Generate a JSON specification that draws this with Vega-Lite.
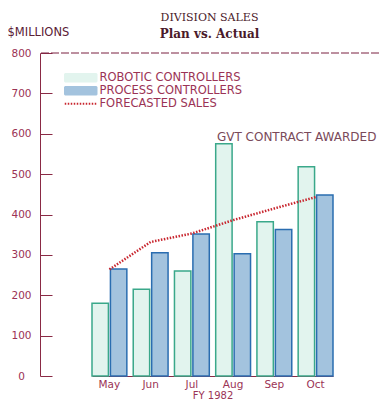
{
  "$schema": "https://vega.github.io/schema/vega-lite/v6.json",
  "autosize": "none",
  "width": 339,
  "height": 323,
  "padding": {"left": 40, "top": 53, "right": 0, "bottom": 32},
  "background": "white",
  "title": {
    "text": "DIVISION SALES",
    "subtitle": "Plan vs. Actual",
    "font": "DejaVu Serif",
    "fontSize": 11,
    "fontWeight": "normal",
    "color": "#4a1a2a",
    "subtitleFont": "DejaVu Serif",
    "subtitleFontSize": 12,
    "subtitleFontWeight": "bold",
    "subtitleColor": "#4a1a2a",
    "subtitlePadding": 6,
    "anchor": "middle",
    "frame": "group",
    "offset": -14
  },
  "config": {
    "view": {"stroke": null},
    "axis": {
      "labelFont": "DejaVu Sans",
      "labelFontSize": 10.5,
      "labelColor": "#9b3355",
      "domainColor": "#8a2a45",
      "tickColor": "#8a2a45",
      "grid": false
    }
  },
  "datasets": {
    "sales": [
      {"month": "May", "series": "ROBOTIC CONTROLLERS", "value": 180},
      {"month": "May", "series": "PROCESS CONTROLLERS", "value": 265},
      {"month": "Jun", "series": "ROBOTIC CONTROLLERS", "value": 215},
      {"month": "Jun", "series": "PROCESS CONTROLLERS", "value": 305},
      {"month": "Jul", "series": "ROBOTIC CONTROLLERS", "value": 260},
      {"month": "Jul", "series": "PROCESS CONTROLLERS", "value": 352},
      {"month": "Aug", "series": "ROBOTIC CONTROLLERS", "value": 575},
      {"month": "Aug", "series": "PROCESS CONTROLLERS", "value": 303},
      {"month": "Sep", "series": "ROBOTIC CONTROLLERS", "value": 382},
      {"month": "Sep", "series": "PROCESS CONTROLLERS", "value": 363},
      {"month": "Oct", "series": "ROBOTIC CONTROLLERS", "value": 518},
      {"month": "Oct", "series": "PROCESS CONTROLLERS", "value": 448}
    ],
    "forecast": [
      {"month": "May", "forecast": 264},
      {"month": "Jun", "forecast": 332},
      {"month": "Jul", "forecast": 353},
      {"month": "Aug", "forecast": 386},
      {"month": "Sep", "forecast": 415},
      {"month": "Oct", "forecast": 443}
    ],
    "top": [{"v": 800}],
    "note": [{"month": "Aug", "series": "ROBOTIC CONTROLLERS", "value": 575, "label": "GVT  CONTRACT AWARDED"}]
  },
  "layer": [
    {
      "data": {"name": "top"},
      "mark": {"type": "rule", "color": "#7a2040", "strokeDash": [8, 2], "strokeWidth": 1},
      "encoding": {"y": {"field": "v", "type": "quantitative", "scale": {"domain": [0, 800], "nice": false}}}
    },
    {
      "data": {"name": "sales"},
      "mark": {"type": "bar", "strokeWidth": 1.5},
      "encoding": {
        "x": {
          "field": "month", "type": "nominal", "sort": ["May", "Jun", "Jul", "Aug", "Sep", "Oct"],
          "scale": {"range": [52, 293], "paddingInner": 0.155, "paddingOuter": 0},
          "axis": {"title": "FY 1982", "titleFont": "DejaVu Sans", "titleFontSize": 10, "titleFontWeight": "normal", "titleColor": "#9b3355", "titlePadding": 1, "labelAngle": 0, "ticks": false, "labelPadding": 3, "labelFontSize": 10.5}
        },
        "xOffset": {"field": "series", "type": "nominal", "sort": ["ROBOTIC CONTROLLERS", "PROCESS CONTROLLERS"], "scale": {"paddingInner": 0.11, "paddingOuter": 0}},
        "y": {
          "field": "value", "type": "quantitative",
          "scale": {"domain": [0, 800], "nice": false},
          "axis": {
            "values": [0, 100, 200, 300, 400, 500, 600, 700, 800],
            "tickSize": -12,
            "labelAlign": "center",
            "labelPadding": 31,
            "title": "$MILLIONS",
            "titleAngle": 0,
            "titleAlign": "left",
            "titleBaseline": "alphabetic",
            "titleX": -33,
            "titleY": -18,
            "titleFont": "DejaVu Sans",
            "titleFontSize": 11.5,
            "titleFontWeight": "normal",
            "titleColor": "#5a2035"
          }
        },
        "color": {
          "field": "series", "type": "nominal",
          "scale": {"domain": ["ROBOTIC CONTROLLERS", "PROCESS CONTROLLERS", "FORECASTED SALES"], "range": ["#e2f4ee", "#a3c3de", "#c8252e"]},
          "legend": {
            "title": null,
            "orient": "none",
            "legendX": 35,
            "legendY": 19,
            "symbolType": "M-4,-1H4V1H-4Z",
            "symbolSize": 64,
            "labelFont": "DejaVu Sans",
            "labelFontSize": 11.5,
            "labelColor": "#9b3355",
            "labelOffset": 13,
            "rowPadding": -2,
            "symbolStrokeWidth": 1.5,
            "encode": {
              "symbols": {
                "update": {
                  "shape": {"signal": "datum.value === 'FORECASTED SALES' ? 'M-4,0H4' : 'M-4,-1H4V1H-4Z'"},
                  "fill": {"signal": "datum.value === 'FORECASTED SALES' ? 'transparent' : (datum.value === 'ROBOTIC CONTROLLERS' ? '#e2f4ee' : '#a3c3de')"},
                  "stroke": {"signal": "datum.value === 'FORECASTED SALES' ? '#c8252e' : (datum.value === 'ROBOTIC CONTROLLERS' ? '#3aa88a' : '#2a6db0')"},
                  "strokeDash": {"signal": "datum.value === 'FORECASTED SALES' ? [1.5, 1.5] : [1, 0]"},
                  "strokeWidth": {"signal": "datum.value === 'FORECASTED SALES' ? 2 : 1.5"},
                  "opacity": {"value": 1}
                }
              }
            }
          }
        },
        "stroke": {
          "field": "series", "type": "nominal",
          "scale": {"domain": ["ROBOTIC CONTROLLERS", "PROCESS CONTROLLERS"], "range": ["#3aa88a", "#2a6db0"]},
          "legend": null
        }
      }
    },
    {
      "data": {"name": "forecast"},
      "mark": {"type": "line", "strokeWidth": 2.5, "strokeDash": [1.5, 1.5]},
      "encoding": {
        "x": {"field": "month", "type": "nominal", "sort": ["May", "Jun", "Jul", "Aug", "Sep", "Oct"]},
        "y": {"field": "forecast", "type": "quantitative"},
        "color": {"datum": "FORECASTED SALES"}
      }
    },
    {
      "data": {"name": "note"},
      "mark": {"type": "text", "align": "left", "baseline": "alphabetic", "dx": -7, "dy": -3, "font": "DejaVu Sans", "fontSize": 12, "color": "#7a4a5a"},
      "encoding": {
        "x": {"field": "month", "type": "nominal", "sort": ["May", "Jun", "Jul", "Aug", "Sep", "Oct"]},
        "xOffset": {"field": "series", "type": "nominal", "sort": ["ROBOTIC CONTROLLERS", "PROCESS CONTROLLERS"]},
        "y": {"field": "value", "type": "quantitative"},
        "text": {"field": "label"}
      }
    }
  ]
}
